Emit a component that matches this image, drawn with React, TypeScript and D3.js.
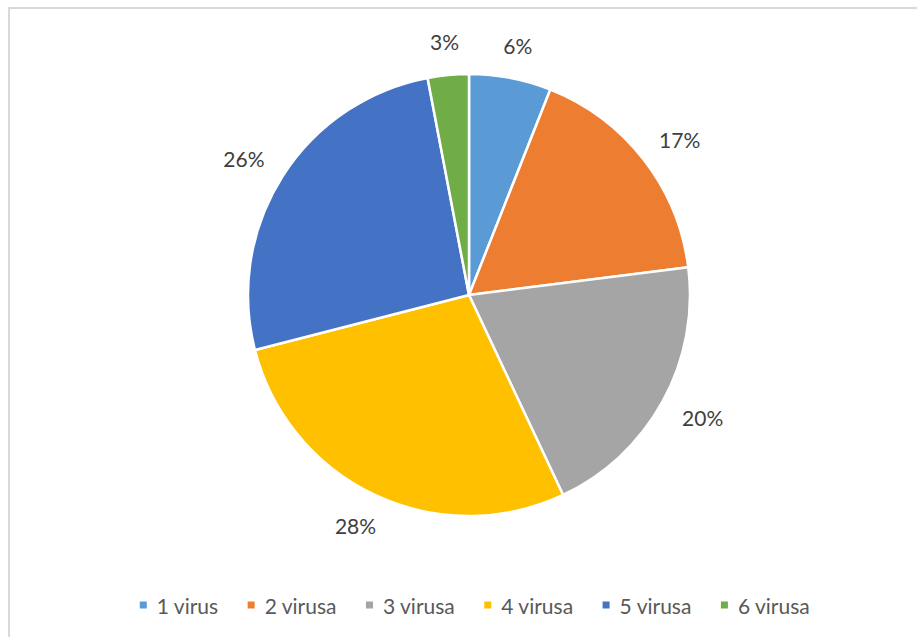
import React from "react";
import * as d3 from "d3";

const categories = ["1 virus", "2 virusa", "3 virusa", "4 virusa", "5 virusa", "6 virusa"];
const values = [6, 17, 20, 28, 26, 3];
const colors = ["#5B9BD5", "#ED7D31", "#A5A5A5", "#FFC000", "#4472C4", "#70AD47"];

const W = 917;
const H = 637;
const cx = 469;
const cy = 295;
const r = 221;
const labelR = 246;
const FONT = "Lato, 'Open Sans', sans-serif";
const labelSize = 21;
const legendSize = 21;

function measure(text: string, size: number): number {
  if (typeof document === "undefined") return text.length * size * 0.5;
  const c = document.createElement("canvas");
  const ctx = c.getContext("2d");
  if (!ctx) return text.length * size * 0.5;
  ctx.font = `${size}px ${FONT}`;
  return ctx.measureText(text).width;
}

export default function App() {
  const pie = d3.pie<number>().sort(null).value((d) => d)(values);
  const arc = d3.arc<d3.PieArcDatum<number>>().innerRadius(0).outerRadius(r);
  const total = d3.sum(values);

  const labels = values.map((v) => `${Math.round((v / total) * 100)}%`);

  // legend layout
  const legendY = 605;
  const marker = 7;
  const markerGap = 10;
  const itemGap = 29;
  const widths = categories.map((c) => marker + markerGap + measure(c, legendSize));
  const totalW = d3.sum(widths) + itemGap * (categories.length - 1);
  let start = 475 - totalW / 2;
  const xs: number[] = [];
  widths.forEach((w) => {
    xs.push(start);
    start += w + itemGap;
  });

  return (
    <svg
      width={W}
      height={H}
      style={{ position: "absolute", left: 0, top: 0, fontFamily: FONT }}
    >
      <rect x={0} y={0} width={W} height={H} fill="#fff" />
      <rect x={9} y={8} width={W + 10} height={H + 10} fill="#fff" stroke="#d9d9d9" strokeWidth={2} />
      <g transform={`translate(${cx},${cy})`}>
        {pie.map((p, i) => (
          <path key={i} d={arc(p) || ""} fill={colors[i]} stroke="#fff" strokeWidth={2.5} strokeLinejoin="round" />
        ))}
        {pie.map((p, i) => {
          const a = (p.startAngle + p.endAngle) / 2;
          const ux = Math.sin(a);
          const uy = -Math.cos(a);
          const w = measure(labels[i], labelSize);
          const h = 17;
          const x = ux * (labelR + w / 2);
          const y = uy * (labelR + h / 2);
          return (
            <text key={"l" + i} x={x} y={y} textAnchor="middle" dominantBaseline="central" fontSize={labelSize} fill="#404040">
              {labels[i]}
            </text>
          );
        })}
      </g>
      <g>
        {categories.map((c, i) => (
          <g key={c} transform={`translate(${xs[i]},${legendY})`}>
            <rect x={0} y={-marker / 2} width={marker} height={marker} fill={colors[i]} />
            <text x={marker + markerGap} y={0} dominantBaseline="central" fontSize={legendSize} fill="#595959">
              {c}
            </text>
          </g>
        ))}
      </g>
    </svg>
  );
}
